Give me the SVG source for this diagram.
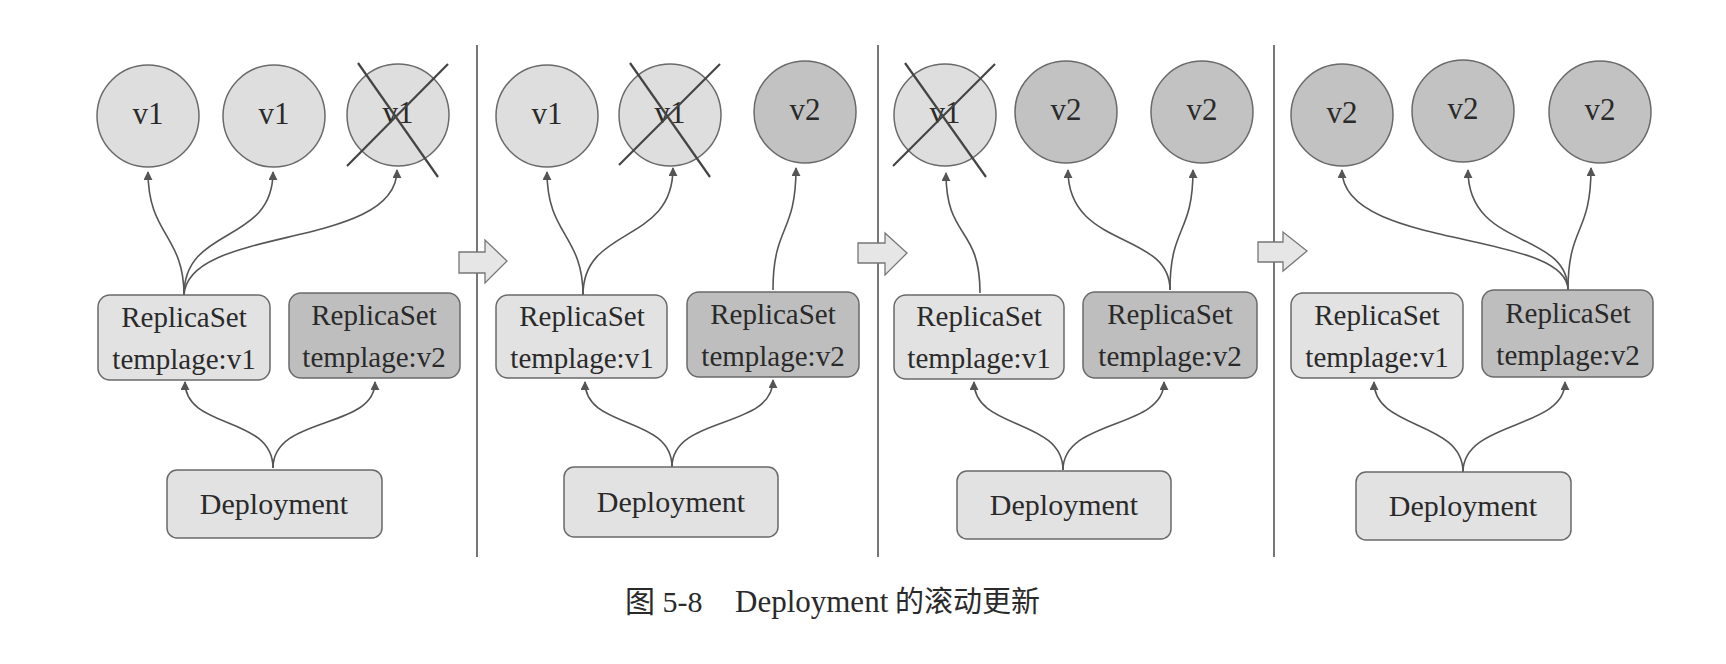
<svg xmlns="http://www.w3.org/2000/svg" width="1726" height="664" viewBox="0 0 1726 664">
<defs>
<marker id="ah" viewBox="0 0 10 10" refX="9" refY="5" markerWidth="9" markerHeight="9" markerUnits="userSpaceOnUse" orient="auto">
<path d="M0,0 L10,5 L0,10 z" fill="#555"/>
</marker>
</defs>
<style>
.pl{fill:#dedede;stroke:#6a6a6a;stroke-width:1.5}
.pd{fill:#c2c2c2;stroke:#6a6a6a;stroke-width:1.5}
.bl{fill:#e2e2e2;stroke:#6a6a6a;stroke-width:1.5}
.bd{fill:#bebebe;stroke:#6a6a6a;stroke-width:1.5}
.t{font-family:"Liberation Serif","Times New Roman",serif;fill:#2a2a2a;text-anchor:middle}
.c{font-size:31px}
.r{font-size:29px}
.d{font-size:30px}
.x{stroke:#444;stroke-width:2.2}
.e{fill:none;stroke:#555;stroke-width:1.6;marker-end:url(#ah)}
.dv{stroke:#555;stroke-width:1.6}
.ba{fill:#e6e6e6;stroke:#777;stroke-width:1.3}
.cap{font-family:"Liberation Serif","Noto Sans CJK SC",serif;fill:#2a2a2a}
</style>

<g id="dividers">
<line class="dv" x1="477" y1="45" x2="477" y2="557"/>
<line class="dv" x1="878" y1="45" x2="878" y2="557"/>
<line class="dv" x1="1274" y1="45" x2="1274" y2="557"/>
</g>

<g id="step-arrows">
<polygon class="ba" points="459,252 485,252 485,240 507,261 485,283 485,273 459,273"/>
<polygon class="ba" points="858,243 885,243 885,233 907,253 885,275 885,263 858,263"/>
<polygon class="ba" points="1258,242 1283,242 1283,232 1307,251 1283,271 1283,262 1258,262"/>
</g>

<g id="connectors">
<path class="e" d="M184,295 C184,235 148,235 148,172"/>
<path class="e" d="M184,295 C184,225 273,245 273,172"/>
<path class="e" d="M184,295 C188,225 397,250 397,170"/>
<path class="e" d="M273,468 C273,415 185,430 185,382"/>
<path class="e" d="M273,468 C273,415 375,430 375,382"/>
<path class="e" d="M583,295 C583,235 547,235 547,172"/>
<path class="e" d="M583,295 C583,225 673,245 673,168"/>
<path class="e" d="M773,290 C773,225 796,235 796,168"/>
<path class="e" d="M672,467 C672,415 585,430 585,382"/>
<path class="e" d="M672,467 C672,415 773,430 773,380"/>
<path class="e" d="M980,293 C980,225 946,240 946,173"/>
<path class="e" d="M1170,290 C1170,230 1068,250 1068,170"/>
<path class="e" d="M1170,290 C1170,225 1193,235 1193,170"/>
<path class="e" d="M1063,470 C1063,418 974,430 974,382"/>
<path class="e" d="M1063,470 C1063,418 1164,430 1164,382"/>
<path class="e" d="M1568,290 C1568,230 1342,250 1342,170"/>
<path class="e" d="M1568,290 C1568,230 1468,250 1468,170"/>
<path class="e" d="M1568,290 C1568,225 1591,235 1591,168"/>
<path class="e" d="M1463,472 C1463,420 1374,430 1374,382"/>
<path class="e" d="M1463,472 C1463,420 1565,430 1565,382"/>
</g>

<g id="p1-pod1"><circle class="pl" cx="148" cy="116" r="51"/><text class="t c" x="148" y="124">v1</text></g>
<g id="p1-pod2"><circle class="pl" cx="274" cy="116" r="51"/><text class="t c" x="274" y="124">v1</text></g>
<g id="p1-pod3"><circle class="pl" cx="398" cy="115" r="51"/><text class="t c" x="398" y="123">v1</text>
<line class="x" x1="358" y1="63" x2="438" y2="177"/><line class="x" x1="448" y1="64" x2="347" y2="166"/></g>
<g id="p1-rs1"><rect class="bl" x="98" y="295" width="172" height="85" rx="12"/><text class="t r" x="184" y="327">ReplicaSet</text><text class="t r" x="184" y="369">templage:v1</text></g>
<g id="p1-rs2"><rect class="bd" x="289" y="293" width="171" height="85" rx="12"/><text class="t r" x="374" y="325">ReplicaSet</text><text class="t r" x="374" y="367">templage:v2</text></g>
<g id="p1-deploy"><rect class="bl" x="167" y="470" width="215" height="68" rx="10"/><text class="t d" x="274" y="514">Deployment</text></g>

<g id="p2-pod1"><circle class="pl" cx="547" cy="116" r="51"/><text class="t c" x="547" y="124">v1</text></g>
<g id="p2-pod2"><circle class="pl" cx="670" cy="115" r="51"/><text class="t c" x="670" y="123">v1</text>
<line class="x" x1="630" y1="63" x2="710" y2="177"/><line class="x" x1="720" y1="64" x2="619" y2="165"/></g>
<g id="p2-pod3"><circle class="pd" cx="805" cy="112" r="51"/><text class="t c" x="805" y="120">v2</text></g>
<g id="p2-rs1"><rect class="bl" x="496" y="295" width="171" height="83" rx="12"/><text class="t r" x="582" y="326">ReplicaSet</text><text class="t r" x="582" y="368">templage:v1</text></g>
<g id="p2-rs2"><rect class="bd" x="687" y="292" width="172" height="85" rx="12"/><text class="t r" x="773" y="324">ReplicaSet</text><text class="t r" x="773" y="366">templage:v2</text></g>
<g id="p2-deploy"><rect class="bl" x="564" y="467" width="214" height="70" rx="10"/><text class="t d" x="671" y="512">Deployment</text></g>

<g id="p3-pod1"><circle class="pl" cx="945" cy="115" r="51"/><text class="t c" x="945" y="123">v1</text>
<line class="x" x1="905" y1="63" x2="986" y2="177"/><line class="x" x1="995" y1="64" x2="893" y2="166"/></g>
<g id="p3-pod2"><circle class="pd" cx="1066" cy="112" r="51"/><text class="t c" x="1066" y="120">v2</text></g>
<g id="p3-pod3"><circle class="pd" cx="1202" cy="112" r="51"/><text class="t c" x="1202" y="120">v2</text></g>
<g id="p3-rs1"><rect class="bl" x="894" y="295" width="170" height="84" rx="12"/><text class="t r" x="979" y="326">ReplicaSet</text><text class="t r" x="979" y="368">templage:v1</text></g>
<g id="p3-rs2"><rect class="bd" x="1083" y="292" width="174" height="86" rx="12"/><text class="t r" x="1170" y="324">ReplicaSet</text><text class="t r" x="1170" y="366">templage:v2</text></g>
<g id="p3-deploy"><rect class="bl" x="957" y="471" width="214" height="68" rx="10"/><text class="t d" x="1064" y="515">Deployment</text></g>

<g id="p4-pod1"><circle class="pd" cx="1342" cy="115" r="51"/><text class="t c" x="1342" y="123">v2</text></g>
<g id="p4-pod2"><circle class="pd" cx="1463" cy="111" r="51"/><text class="t c" x="1463" y="119">v2</text></g>
<g id="p4-pod3"><circle class="pd" cx="1600" cy="112" r="51"/><text class="t c" x="1600" y="120">v2</text></g>
<g id="p4-rs1"><rect class="bl" x="1291" y="293" width="172" height="85" rx="12"/><text class="t r" x="1377" y="325">ReplicaSet</text><text class="t r" x="1377" y="367">templage:v1</text></g>
<g id="p4-rs2"><rect class="bd" x="1482" y="290" width="171" height="87" rx="12"/><text class="t r" x="1568" y="323">ReplicaSet</text><text class="t r" x="1568" y="365">templage:v2</text></g>
<g id="p4-deploy"><rect class="bl" x="1356" y="472" width="215" height="68" rx="10"/><text class="t d" x="1463" y="516">Deployment</text></g>

<g id="caption">
<text class="cap" x="625" y="612" font-size="30">图 5-8</text>
<text class="cap" x="735" y="612" font-size="31">Deployment</text>
<text class="cap" x="895" y="612" font-size="29">的滚动更新</text>
</g>
</svg>
